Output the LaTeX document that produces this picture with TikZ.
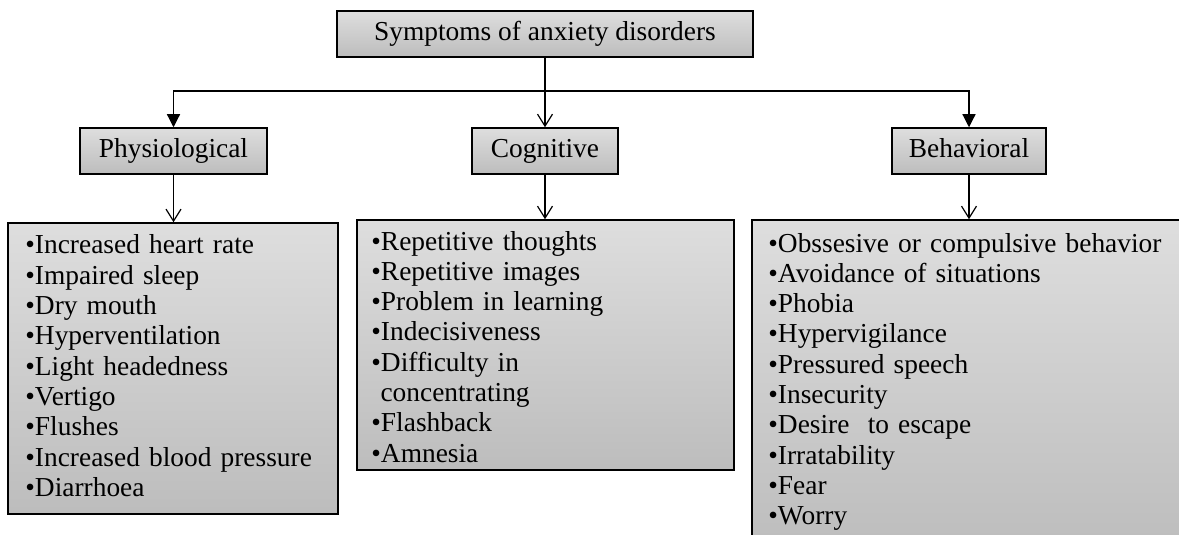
\documentclass[tikz,border=0pt]{standalone}
\usepackage{fontspec}
\setmainfont{Liberation Serif}
\usetikzlibrary{arrows.meta}
\definecolor{boxtop}{gray}{0.87}
\definecolor{boxbot}{gray}{0.74}
\tikzset{
  gbox/.style={draw=black, line width=0.75pt, top color=boxtop, bottom color=boxbot,
    rectangle, inner sep=0pt, font=\fontsize{13.7}{15.15}\selectfont},
  headbox/.style={gbox, text height=9.6pt, text depth=2.9pt, minimum height=23pt},
  listtext/.style={inner sep=0pt, anchor=base west, text width=210pt, align=left,
    font=\fontsize{13.7}{15.15}\selectfont},
  conn/.style={line width=0.6pt, black},
  tarrow/.style={conn, -{Triangle[width=6.5pt,length=6.5pt]}},
  varrow/.style={conn, -{Straight Barb[length=6pt,width=7.5pt]}},
}
\begin{document}
\begin{tikzpicture}[x=0.5pt,y=-0.5pt]
\useasboundingbox (0,0) rectangle (1179,535);
% heading boxes
\node[headbox, minimum width=208pt] (top) at (545,34) {Symptoms of anxiety disorders};
\node[headbox, minimum width=93.5pt] (phys) at (173.5,151) {Physiological};
\node[headbox, minimum width=73pt] (cog) at (545,151) {Cognitive};
\node[headbox, minimum width=77pt] (beh) at (969,151) {Behavioral};
% list boxes
\node[gbox, minimum width=165pt, minimum height=145.5pt] (lbox) at (173,368.5) {};
\node[gbox, minimum width=188.5pt, minimum height=125pt] (cbox) at (545.5,345) {};
\node[gbox, minimum width=221.5pt, minimum height=165pt] (rbox) at (973.5,385) {};
% list texts
\node[listtext] (ltext) at (25,254) {•Increased heart rate\\
•Impaired sleep\\
•Dry mouth\\
•Hyperventilation\\
•Light headedness\\
•Vertigo\\
•Flushes\\
•Increased blood pressure\\
•Diarrhoea};
\node[listtext] (ctext) at (371,250) {•Repetitive thoughts\\
•Repetitive images\\
•Problem in learning\\
•Indecisiveness\\
•Difficulty in\\
\ concentrating\\
•Flashback\\
•Amnesia};
\node[listtext] (rtext) at (768,252) {•Obssesive or compulsive behavior\\
•Avoidance of situations\\
•Phobia\\
•Hypervigilance\\
•Pressured speech\\
•Insecurity\\
•Desire~ to escape\\
•Irratability\\
•Fear\\
•Worry};
% connectors
\coordinate (j) at (545,91);
\draw[varrow] (top.south) -- (cog.north);
\draw[tarrow] (j) -| (phys.north);
\draw[tarrow] (j) -| (beh.north);
\draw[varrow] (phys.south) -- (phys.south |- lbox.north);
\draw[varrow] (cog.south) -- (cog.south |- cbox.north);
\draw[varrow] (beh.south) -- (beh.south |- rbox.north);
\end{tikzpicture}
\end{document}
